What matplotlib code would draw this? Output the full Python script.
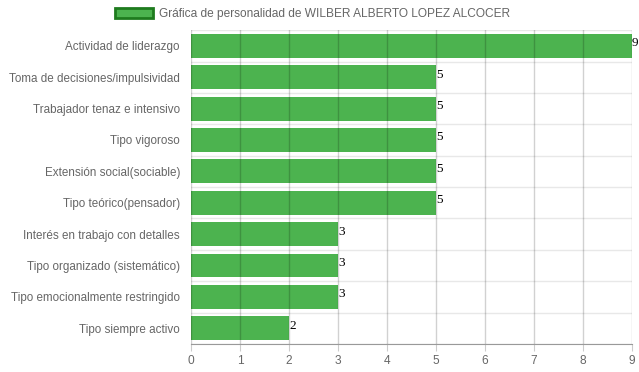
import matplotlib.pyplot as plt
import numpy as np

plt.rcParams['font.family'] = ['Liberation Sans', 'DejaVu Sans']

categories = ['Actividad de liderazgo', 'Toma de decisiones/impulsividad',
              'Trabajador tenaz e intensivo', 'Tipo vigoroso',
              'Extensión social(sociable)', 'Tipo teórico(pensador)',
              'Interés en trabajo con detalles', 'Tipo organizado (sistemático)',
              'Tipo emocionalmente restringido', 'Tipo siempre activo']
values = [9, 5, 5, 5, 5, 5, 3, 3, 3, 2]
x_ticks = list(range(0, 10))
legend_label = 'Gráfica de personalidad de WILBER ALBERTO LOPEZ ALCOCER'

fig = plt.figure(figsize=(6.39, 3.72), dpi=100)
ax = fig.add_axes([0.2989, 0.0753, 0.6901, 0.8437])

y = np.arange(len(categories))
bars = ax.barh(y, values, height=0.76, color='#4CB34F', zorder=2,
               label=legend_label)

ax.set_ylim(len(categories) - 0.5, -0.5)
ax.set_xlim(0, 9)
ax.set_xticks(x_ticks)
ax.set_yticks(y)
ax.set_yticklabels(categories)

# vertical grid over the bars
for t in x_ticks:
    ax.axvline(t, color=(0, 0, 0, 0.18), lw=1, zorder=3)
# horizontal grid at band edges
for b in np.arange(len(categories) + 1) - 0.5:
    ax.axhline(b, color='#e8e8e8', lw=1, zorder=1)

for s in ['top', 'right', 'left']:
    ax.spines[s].set_visible(False)
ax.spines['bottom'].set_color('#999999')
ax.tick_params(axis='x', colors='#cccccc', length=5, labelcolor='#666666',
               labelsize=8.6, pad=3)
ax.tick_params(axis='y', length=0, labelcolor='#666666', labelsize=8.4, pad=8)

for yi, v in zip(y, values):
    ax.text(v, yi - 0.08, str(v), fontsize=9.5, family='Liberation Serif',
            color='black', ha='left', va='center', zorder=4)

leg = fig.legend(handles=[bars], labels=[legend_label], loc='center',
                 bbox_to_anchor=(0.489, 0.962), frameon=False, fontsize=8.6,
                 handlelength=3.2, handleheight=0.9, handletextpad=0.5,
                 labelcolor='#666666')
for h in leg.legend_handles:
    h.set_edgecolor('#1E7B1E')
    h.set_linewidth(2)

fig.savefig('out.png', dpi=100)
